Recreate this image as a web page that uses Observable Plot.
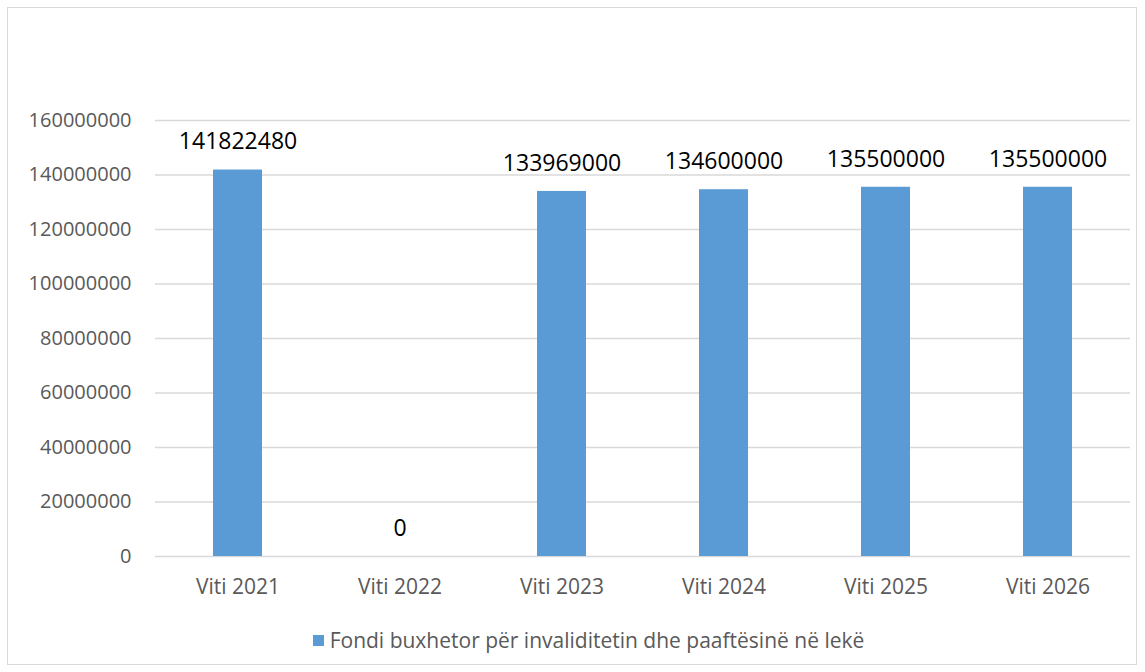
<!DOCTYPE html>
<html>
<head>
<meta charset="utf-8">
<script src="https://cdn.jsdelivr.net/npm/d3@7"></script>
<script src="https://cdn.jsdelivr.net/npm/@observablehq/plot@0.6"></script>
<style>
  html, body { margin: 0; padding: 0; background: #fff; }
  #wrap { position: relative; width: 1145px; height: 672px; overflow: hidden; font-family: "Open Sans", sans-serif; }
  #frame { position: absolute; left: 7px; top: 7px; width: 1130px; height: 658px; border: 1px solid #d9d9d9; box-sizing: border-box; }
  #chart { position: absolute; left: 0; top: 0; }
  #legend { position: absolute; left: 16px; top: 625px; width: 1145px; text-align: center; font-size: 21px; line-height: 30px; color: #595959; }
  #legend .sw { display: inline-block; width: 11px; height: 11px; background: #5B9BD5; margin-right: 6px; vertical-align: middle; position: relative; top: -2px; }
</style>
</head>
<body>
<div id="wrap">
  <div id="frame"></div>
  <div id="chart"></div>
  <div id="legend"><span class="sw"></span><span id="legtext"></span></div>
</div>
<script>
const categories = ["Viti 2021", "Viti 2022", "Viti 2023", "Viti 2024", "Viti 2025", "Viti 2026"];
const values = [141822480, 0, 133969000, 134600000, 135500000, 135500000];
const yTicks = [0, 20000000, 40000000, 60000000, 80000000, 100000000, 120000000, 140000000, 160000000];
const seriesName = "Fondi buxhetor për invaliditetin dhe paaftësinë në lekë";

const data = categories.map((c, i) => ({category: c, value: values[i]}));
document.getElementById("legtext").textContent = seriesName;

const chart = Plot.plot({
  width: 1145,
  height: 600,
  marginLeft: 155,
  marginRight: 15,
  marginTop: 120,
  marginBottom: 44,
  style: {fontFamily: "'Open Sans', sans-serif", fontSize: "19px", color: "#595959", background: "transparent"},
  x: {domain: categories, paddingInner: 0.7, paddingOuter: 0.35, label: null},
  y: {domain: [0, 160000000], label: null},
  marks: [
    Plot.ruleY(yTicks, {stroke: "#d9d9d9", strokeWidth: 1.3}),
    Plot.barY(data, {x: "category", y: "value", fill: "#5B9BD5"}),
    Plot.text(data, {x: "category", y: "value", text: d => String(d.value), dy: -28, fontSize: 23, fill: "#000"}),
    Plot.axisY({ticks: yTicks, tickFormat: d => String(d), tickSize: 0, tickPadding: 24, fill: "#595959", fontSize: 20}),
    Plot.axisX({tickSize: 0, tickPadding: 23, fill: "#595959", fontSize: 21})
  ]
});
document.getElementById("chart").appendChild(chart);
</script>
</body>
</html>
